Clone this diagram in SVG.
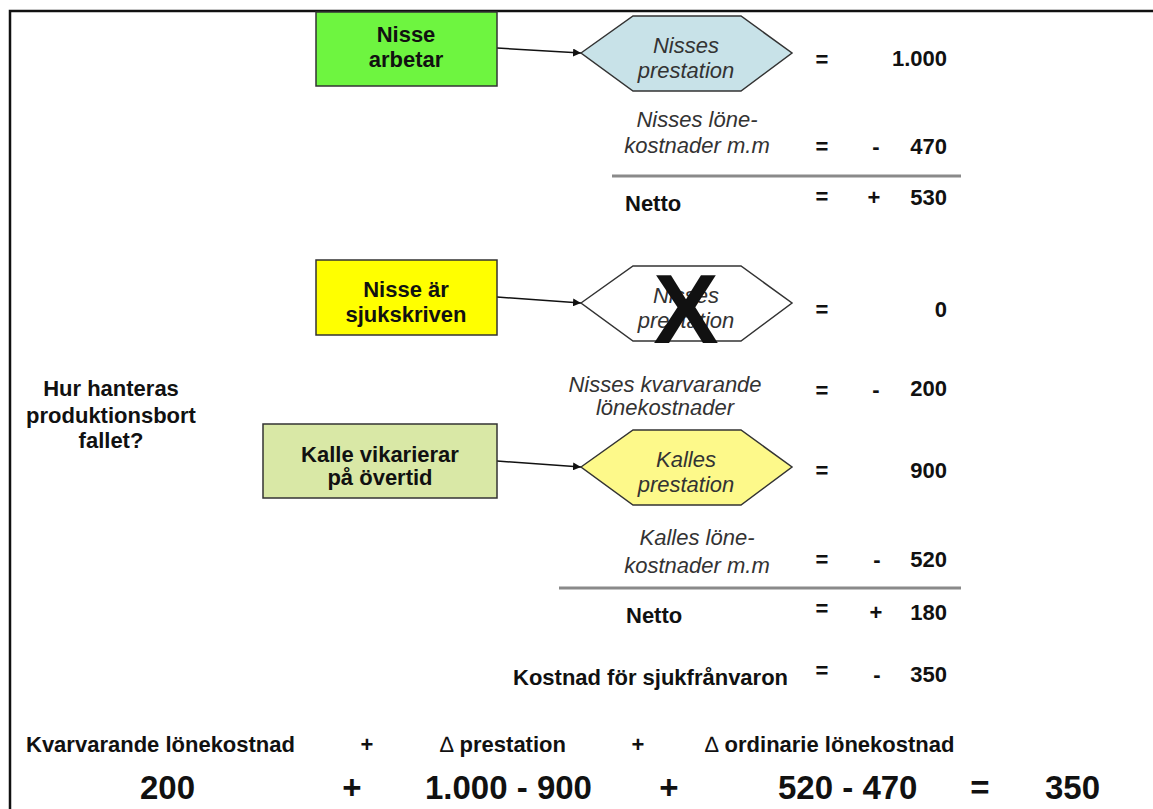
<svg xmlns="http://www.w3.org/2000/svg" width="1153" height="809" viewBox="0 0 1153 809">
<style>
text{font-family:"Liberation Sans",Arial,sans-serif;font-size:22px;fill:#111}
.b{font-weight:bold}
.i{font-style:italic;fill:#333}
.m{text-anchor:middle}
.e{text-anchor:end}
.box{stroke:#333;stroke-width:1.5}
.conn{stroke:#111;stroke-width:1.5;fill:none}
.big{font-size:33px;font-weight:bold}
.rule{stroke:#8a8a8a;stroke-width:3}
</style>
<defs>
<marker id="ah" viewBox="0 0 10 10" refX="10" refY="5" markerWidth="8" markerHeight="8" markerUnits="userSpaceOnUse" orient="auto">
<path d="M0,0 L10,5 L0,10 z" fill="#111"/>
</marker>
</defs>
<rect width="1153" height="809" fill="#fff"/>
<path d="M10,809 V11 H1153" fill="none" stroke="#111" stroke-width="2.5"/>

<g id="connectors">
<line class="conn" x1="497" y1="48" x2="581" y2="53" marker-end="url(#ah)"/>
<line class="conn" x1="497" y1="297" x2="581" y2="303" marker-end="url(#ah)"/>
<line class="conn" x1="497" y1="461" x2="581" y2="467" marker-end="url(#ah)"/>
</g>

<g id="nisse-arbetar">
<rect class="box" x="316" y="12" width="181" height="74" fill="#6ef540"/>
<text class="b m" x="406" y="42">Nisse</text>
<text class="b m" x="406" y="67">arbetar</text>
</g>

<g id="nisses-prestation">
<polygon class="box" points="581,53 633,16 741,16 792,53 741,91 633,91" fill="#c8e2e8"/>
<text class="i m" x="686" y="53">Nisses</text>
<text class="i m" x="686" y="78">prestation</text>
</g>

<g id="nisse-sjukskriven">
<rect class="box" x="316" y="260" width="181" height="75" fill="#ffff00"/>
<text class="b m" x="406" y="297">Nisse är</text>
<text class="b m" x="406" y="322">sjukskriven</text>
</g>

<g id="nisses-prestation-struken">
<polygon class="box" points="581,303 633,266 741,266 792,303 741,341 633,341" fill="#fff"/>
<text class="i m" x="686" y="303">Nisses</text>
<text class="i m" x="686" y="328">prestation</text>
<text class="b m" x="686" y="343" style="font-size:98px;fill:#111">X</text>
</g>

<g id="kalle-vikarierar">
<rect class="box" x="263" y="424" width="234" height="74" fill="#d9e8a6"/>
<text class="b m" x="380" y="462">Kalle vikarierar</text>
<text class="b m" x="380" y="485">på övertid</text>
</g>

<g id="kalles-prestation">
<polygon class="box" points="581,467 633,430 741,430 792,467 741,505 633,505" fill="#fdf98a"/>
<text class="i m" x="686" y="467">Kalles</text>
<text class="i m" x="686" y="492">prestation</text>
</g>

<g id="question">
<text class="b m" x="111" y="396">Hur hanteras</text>
<text class="b m" x="111" y="423">produktionsbort</text>
<text class="b m" x="111" y="448">fallet?</text>
</g>

<g id="calc-nisse">
<text class="b m" x="822" y="67">=</text>
<text class="b e" x="947" y="66">1.000</text>
<text class="i m" x="697" y="127">Nisses löne-</text>
<text class="i m" x="697" y="153">kostnader m.m</text>
<text class="b m" x="822" y="154">=</text>
<text class="b m" x="876" y="154">-</text>
<text class="b e" x="947" y="154">470</text>
<line class="rule" x1="612" y1="176" x2="961" y2="176"/>
<text class="b" x="625" y="211">Netto</text>
<text class="b m" x="822" y="204">=</text>
<text class="b m" x="874" y="205">+</text>
<text class="b e" x="947" y="205">530</text>
</g>

<g id="calc-sjuk">
<text class="b m" x="822" y="317">=</text>
<text class="b e" x="947" y="317">0</text>
<text class="i m" x="665" y="392">Nisses kvarvarande</text>
<text class="i m" x="665" y="415">lönekostnader</text>
<text class="b m" x="822" y="398">=</text>
<text class="b m" x="876" y="397">-</text>
<text class="b e" x="947" y="396">200</text>
<text class="b m" x="822" y="478">=</text>
<text class="b e" x="947" y="478">900</text>
<text class="i m" x="697" y="545">Kalles löne-</text>
<text class="i m" x="697" y="573">kostnader m.m</text>
<text class="b m" x="822" y="567">=</text>
<text class="b m" x="877" y="567">-</text>
<text class="b e" x="947" y="567">520</text>
<line class="rule" x1="559" y1="588" x2="961" y2="588"/>
<text class="b" x="626" y="623">Netto</text>
<text class="b m" x="822" y="616">=</text>
<text class="b m" x="876" y="620">+</text>
<text class="b e" x="947" y="620">180</text>
<text class="b" x="513" y="685">Kostnad för sjukfrånvaron</text>
<text class="b m" x="822" y="678">=</text>
<text class="b m" x="877" y="682">-</text>
<text class="b e" x="947" y="682">350</text>
</g>

<g id="formula">
<text class="b" x="26" y="752">Kvarvarande lönekostnad</text>
<text class="b m" x="367" y="752">+</text>
<text class="b" x="440" y="752"><tspan style="font-weight:normal">∆</tspan> prestation</text>
<text class="b m" x="638" y="752">+</text>
<text class="b" x="705" y="752"><tspan style="font-weight:normal">∆</tspan> ordinarie lönekostnad</text>
<text class="big" x="140" y="799">200</text>
<text class="big m" x="352" y="799">+</text>
<text class="big" x="425" y="799">1.000 - 900</text>
<text class="big m" x="669" y="799">+</text>
<text class="big" x="778" y="799">520 - 470</text>
<text class="big m" x="980" y="799">=</text>
<text class="big" x="1045" y="799">350</text>
</g>
</svg>
